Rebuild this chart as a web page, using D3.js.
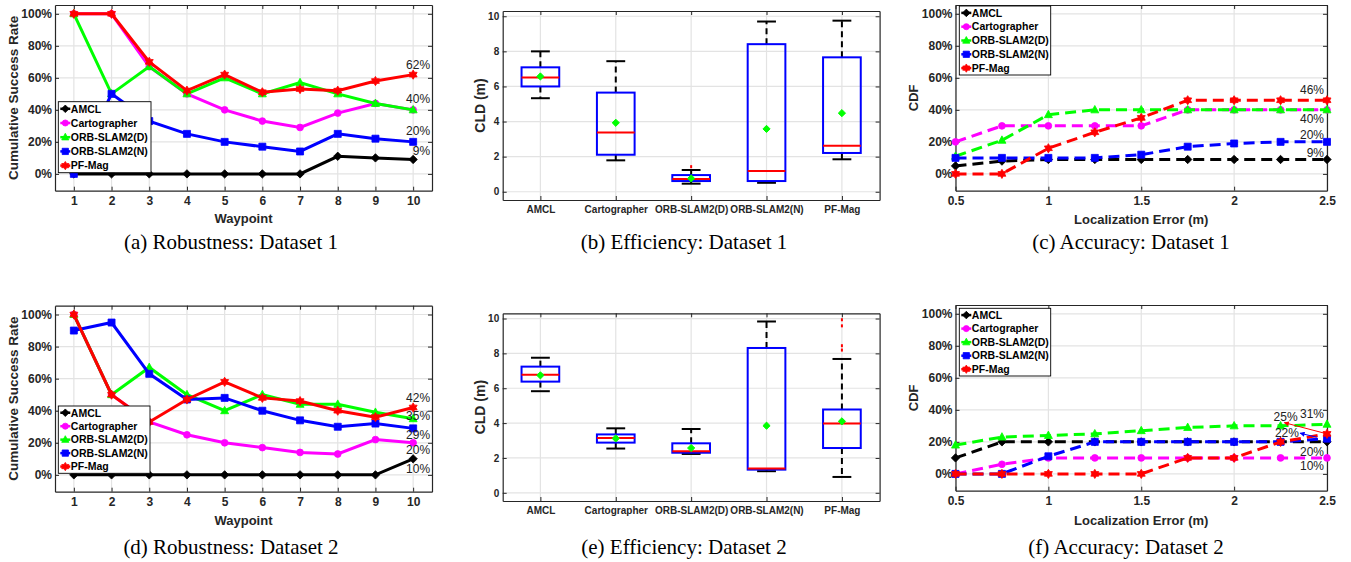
<!DOCTYPE html>
<html>
<head>
<meta charset="utf-8">
<script src="https://cdn.jsdelivr.net/npm/d3@7"></script>
<style>
body { margin: 0; background: #fff; }
</style>
</head>
<body>
<svg id="fig" width="1351" height="562"></svg>
<script>
var methods = ["AMCL", "Cartographer", "ORB-SLAM2(D)", "ORB-SLAM2(N)", "PF-Mag"];
var colors = ["#000000", "#ff00ff", "#00ff00", "#0000ff", "#ff0000"];
var markerTypes = ["d", "o", "^", "s", "h"];
var waypoints = [1, 2, 3, 4, 5, 6, 7, 8, 9, 10];
var errSteps = [0.5, 0.75, 1, 1.25, 1.5, 1.75, 2, 2.25, 2.5];
var pctTicks = [0, 20, 40, 60, 80, 100];
var errTicks = [0.5, 1, 1.5, 2, 2.5];
var cldTicks = [0, 2, 4, 6, 8, 10];

// (a) robustness, dataset 1 (%)
var rob1AMCL = [0, 0, 0, 0, 0, 0, 0, 11, 10, 9];
var rob1Carto = [100, 100, 67, 50, 40, 33, 29, 38, 44, 40];
var rob1OrbD = [100, 50, 67, 50, 60, 50, 57, 50, 44, 40];
var rob1OrbN = [0, 50, 33, 25, 20, 17, 14, 25, 22, 20];
var rob1PF = [100, 100, 70, 52, 62, 51, 53, 52, 58, 62];
var rob1LabText = ["62%", "40%", "20%", "9%"];
var rob1LabY = [68, 46.8, 26.8, 14.3];

// (d) robustness, dataset 2 (%)
var rob2AMCL = [0, 0, 0, 0, 0, 0, 0, 0, 0, 10];
var rob2Carto = [100, 50, 33, 25, 20, 17, 14, 13, 22, 20];
var rob2OrbD = [100, 50, 67, 50, 40, 50, 44, 44, 39, 35];
var rob2OrbN = [90, 95, 63, 47, 48, 40, 34, 30, 32, 29];
var rob2PF = [100, 50, 33, 47, 58, 48, 46, 40, 36, 42];
var rob2LabText = ["42%", "35%", "29%", "20%", "10%"];
var rob2LabY = [47.8, 36.8, 25.1, 15.6, 3.5];

// (b) CLD, dataset 1 (m)
var eff1Low = [5.33, 1.79, 0.46, 0.51, 1.85];
var eff1Q1 = [6.0, 2.11, 0.61, 0.61, 2.21];
var eff1Med = [6.51, 3.38, 0.73, 1.18, 2.62];
var eff1Q3 = [7.09, 5.65, 0.95, 8.41, 7.66];
var eff1High = [8.0, 7.44, 1.24, 9.70, 9.75];
var eff1Mean = [6.57, 3.93, 0.76, 3.58, 4.48];
var eff1Out = [[], [], [1.43], [], []];

// (e) CLD, dataset 2 (m)
var eff2Low = [5.83, 2.54, 2.23, 1.24, 0.91];
var eff2Q1 = [6.38, 2.88, 2.30, 1.33, 2.57];
var eff2Med = [6.78, 3.14, 2.38, 1.39, 3.97];
var eff2Q3 = [7.24, 3.35, 2.84, 8.31, 4.78];
var eff2High = [7.75, 3.70, 3.66, 9.83, 7.68];
var eff2Mean = [6.74, 3.12, 2.57, 3.85, 4.10];
var eff2Out = [[], [], [], [], [9.93, 9.58, 8.44, 8.19]];

// (c) accuracy CDF, dataset 1 (%)
var acc1AMCL = [5, 8, 9, 9, 9, 9, 9, 9, 9];
var acc1Carto = [20, 30, 30, 30, 30, 40, 40, 40, 40];
var acc1OrbD = [11, 21, 37, 40, 40, 40, 40, 40, 40];
var acc1OrbN = [10, 10, 10, 10, 12, 17, 19, 20, 20];
var acc1PF = [0, 0, 16, 26, 35, 46, 46, 46, 46];
var acc1LabText = ["46%", "40%", "20%", "9%"];
var acc1LabY = [52.4, 34.5, 24.3, 12.9];

// (f) accuracy CDF, dataset 2 (%)
var acc2AMCL = [10, 20, 20, 20, 20, 20, 20, 20, 20];
var acc2Carto = [0, 6, 10, 10, 10, 10, 10, 10, 10];
var acc2OrbD = [18, 23, 24, 25, 27, 29, 30, 30, 31];
var acc2OrbN = [0, 0, 11, 20, 20, 20, 20, 20, 22];
var acc2PF = [0, 0, 0, 0, 0, 10, 10, 20, 25];
var acc2LabText = ["31%", "25%", "22%", "20%", "10%"];
var acc2LabX = [2.484, 2.342, 2.349, 2.484, 2.484];
var acc2LabY = [37.4, 35.7, 25.7, 13.9, 4.9];
var acc2ArrowFrom = [[2.5, 25], [2.445, 22.9]];
var acc2ArrowTo = [[2.27, 32], [2.355, 25.4]];
var acc2ArrowColor = ["#ff0000", "#0000ff"];

var FONT = "'Liberation Sans', Arial, Helvetica, sans-serif";
var AXC = "#262626";
var svg = d3.select("#fig");

var defs = svg.append("defs");
acc2ArrowColor.forEach(function(c, i) {
    defs.append("marker").attr("id", "ah" + i)
        .attr("viewBox", "0 0 10 10").attr("refX", 9).attr("refY", 5)
        .attr("markerWidth", 6).attr("markerHeight", 5).attr("orient", "auto")
        .append("path").attr("d", "M0,0L10,5L0,10Z").attr("fill", c);
});

function markerPath(type, r) {
    if (type == "d") return "M0," + (-r) + "L" + r + ",0L0," + r + "L" + (-r) + ",0Z";
    if (type == "s") return "M" + (-r) + "," + (-r) + "H" + r + "V" + r + "H" + (-r) + "Z";
    if (type == "^") return "M0," + (-r * 1.1) + "L" + r + "," + (r * 0.75) + "L" + (-r) + "," + (r * 0.75) + "Z";
    if (type == "o") return d3.arc()({innerRadius: 0, outerRadius: r, startAngle: 0, endAngle: 2 * Math.PI});
    var pts = [];
    for (var k = 0; k < 12; k++) {
        var a = k * Math.PI / 6 - Math.PI / 2;
        var rr = k % 2 ? r * 0.6 : r;
        pts.push([rr * Math.cos(a), rr * Math.sin(a)]);
    }
    return "M" + pts.join("L") + "Z";
}
var markerR = {d: 4.2, o: 3.4, "^": 4.0, s: 3.5, h: 4.6};

function styleAxis(sel, size) {
    sel.select(".domain").attr("stroke", AXC).attr("stroke-width", 1.2);
    sel.selectAll(".tick line").attr("stroke", AXC).attr("stroke-width", 1);
    sel.selectAll("text").attr("fill", AXC).attr("font-size", size)
        .attr("font-weight", "bold").attr("font-family", FONT);
}

function frame(g, x, y, o) {
    g.append("g").selectAll("line").data(o.xTicks).join("line")
        .attr("x1", function(d) { return x(d); }).attr("x2", function(d) { return x(d); })
        .attr("y1", o.top).attr("y2", o.bottom)
        .attr("stroke", "#e3e3e3").attr("stroke-width", 1.2);
    g.append("g").selectAll("line").data(o.yTicks).join("line")
        .attr("y1", function(d) { return y(d); }).attr("y2", function(d) { return y(d); })
        .attr("x1", o.left).attr("x2", o.right)
        .attr("stroke", "#e3e3e3").attr("stroke-width", 1.2);
}

function axes(g, x, y, o) {
    var blank = function() { return ""; };
    g.append("g").attr("transform", "translate(0," + o.bottom + ")")
        .call(d3.axisBottom(x).tickValues(o.xTicks).tickFormat(o.xFmt).tickSizeInner(-4).tickSizeOuter(0).tickPadding(o.xPad))
        .call(styleAxis, o.xSize);
    g.append("g").attr("transform", "translate(0," + o.top + ")")
        .call(d3.axisTop(x).tickValues(o.xTicks).tickFormat(blank).tickSizeInner(-4).tickSizeOuter(0))
        .call(styleAxis, o.xSize);
    g.append("g").attr("transform", "translate(" + o.left + ",0)")
        .call(d3.axisLeft(y).tickValues(o.yTicks).tickFormat(o.yFmt).tickSizeInner(-4).tickSizeOuter(0).tickPadding(o.yPad))
        .call(styleAxis, o.ySize);
    g.append("g").attr("transform", "translate(" + o.right + ",0)")
        .call(d3.axisRight(y).tickValues(o.yTicks).tickFormat(blank).tickSizeInner(-4).tickSizeOuter(0))
        .call(styleAxis, o.ySize);

    if (o.xLabel) {
        g.append("text").attr("x", (o.left + o.right) / 2).attr("y", o.xLabY).attr("dy", "0.35em")
            .attr("text-anchor", "middle").attr("font-family", FONT).attr("font-weight", "bold")
            .attr("font-size", 13).attr("fill", AXC).text(o.xLabel);
    }
    g.append("text")
        .attr("transform", "translate(" + o.yLabX + "," + (o.top + o.bottom) / 2 + ") rotate(-90)")
        .attr("dy", "0.35em").attr("text-anchor", "middle").attr("font-family", FONT)
        .attr("font-weight", "bold").attr("font-size", o.yLabSize).attr("fill", AXC).text(o.yLabel);
}

function caption(cx, cy, txt) {
    svg.append("text").attr("x", cx).attr("y", cy).attr("dy", "0.35em").attr("text-anchor", "middle")
        .attr("font-family", "'Liberation Serif', 'Times New Roman', serif").attr("font-size", 21)
        .attr("fill", "#000").text(txt);
}

function linePanel(o) {
    var g = svg.append("g");
    var x = d3.scaleLinear().domain(o.xDomain).range([o.left, o.right]);
    var y = d3.scaleLinear().domain([-10.5, 105.5]).range([o.bottom, o.top]);
    frame(g, x, y, o);
    axes(g, x, y, o);

    var line = d3.line().x(function(d) { return x(d[0]); }).y(function(d) { return y(d[1]); });
    o.series.forEach(function(vals, i) {
        var pts = o.xs.map(function(v, j) { return [v, vals[j]]; });
        g.append("path").attr("d", line(pts)).attr("fill", "none")
            .attr("stroke", colors[i]).attr("stroke-width", 3)
            .attr("stroke-dasharray", o.dashed ? "11,6" : null);
        g.append("g").selectAll("path").data(pts).join("path")
            .attr("transform", function(d) { return "translate(" + x(d[0]) + "," + y(d[1]) + ")"; })
            .attr("d", markerPath(markerTypes[i], markerR[markerTypes[i]]))
            .attr("fill", colors[i]).attr("stroke", colors[i]).attr("stroke-width", 0.8);
    });

    if (o.arrowsFrom) {
        o.arrowsFrom.forEach(function(p, i) {
            g.append("line").attr("x1", x(p[0])).attr("y1", y(p[1]))
                .attr("x2", x(o.arrowsTo[i][0])).attr("y2", y(o.arrowsTo[i][1]))
                .attr("stroke", acc2ArrowColor[i]).attr("stroke-width", 1)
                .attr("marker-end", "url(#ah" + i + ")");
        });
    }

    o.labText.forEach(function(t, i) {
        var lx = o.labX ? o.labX[i] : o.labX0;
        g.append("text").attr("x", x(lx)).attr("y", y(o.labY[i])).attr("dy", "0.35em")
            .attr("text-anchor", "end").attr("font-family", FONT).attr("font-size", 12)
            .attr("fill", "#222").text(t);
    });

    // legend
    var L = o.legend, step = L.h / 5;
    var lg = g.append("g");
    lg.append("rect").attr("x", L.x).attr("y", L.y).attr("width", L.w).attr("height", L.h)
        .attr("fill", "#fff").attr("stroke", "#000").attr("stroke-width", 0.9);
    methods.forEach(function(m, i) {
        var cy = L.y + step / 2 + i * step;
        lg.append("line").attr("x1", L.x + 2).attr("x2", L.x + 12).attr("y1", cy).attr("y2", cy)
            .attr("stroke", colors[i]).attr("stroke-width", 2.5);
        lg.append("path").attr("transform", "translate(" + (L.x + 7) + "," + cy + ")")
            .attr("d", markerPath(markerTypes[i], markerR[markerTypes[i]] * 0.9))
            .attr("fill", colors[i]).attr("stroke", colors[i]).attr("stroke-width", 0.8);
        lg.append("text").attr("x", L.x + 12.5).attr("y", cy).attr("dy", "0.36em")
            .attr("font-family", FONT).attr("font-weight", "bold").attr("font-size", 10.5)
            .attr("fill", "#000").text(m);
    });
}

function boxPanel(o) {
    var g = svg.append("g");
    var x = d3.scaleLinear().domain([0.5, 5.5]).range([o.left, o.right]);
    var y = d3.scaleLinear().domain([-0.47, 10.3]).range([o.bottom, o.top]);
    frame(g, x, y, o);
    axes(g, x, y, o);

    var hw = 0.25, cw = 0.125;
    methods.forEach(function(m, i) {
        var c = i + 1;
        // whiskers
        [[o.q3[i], o.high[i]], [o.q1[i], o.low[i]]].forEach(function(w) {
            g.append("line").attr("x1", x(c)).attr("x2", x(c)).attr("y1", y(w[0])).attr("y2", y(w[1]))
                .attr("stroke", "#000").attr("stroke-width", 2).attr("stroke-dasharray", "6,4");
            g.append("line").attr("x1", x(c - cw)).attr("x2", x(c + cw)).attr("y1", y(w[1])).attr("y2", y(w[1]))
                .attr("stroke", "#000").attr("stroke-width", 2);
        });
        g.append("rect").attr("x", x(c - hw)).attr("width", x(c + hw) - x(c - hw))
            .attr("y", y(o.q3[i])).attr("height", y(o.q1[i]) - y(o.q3[i]))
            .attr("fill", "none").attr("stroke", "#0000ff").attr("stroke-width", 2);
        g.append("line").attr("x1", x(c - hw)).attr("x2", x(c + hw)).attr("y1", y(o.med[i])).attr("y2", y(o.med[i]))
            .attr("stroke", "#ff0000").attr("stroke-width", 2);
        g.append("path").attr("transform", "translate(" + x(c) + "," + y(o.mean[i]) + ")")
            .attr("d", markerPath("d", 3.6)).attr("fill", "#00ff00").attr("stroke", "#00ff00");
        g.selectAll(null).data(o.out[i]).join("rect")
            .attr("x", x(c) - 1).attr("width", 2)
            .attr("y", function(d) { return y(d) - 1.5; }).attr("height", 3)
            .attr("fill", "#ff0000");
    });
}

var pctFmt = function(d) { return d + "%"; };
var numFmt = function(d) { return d; };
var catFmt = function(d) { return methods[d - 1]; };

// (a)
linePanel({left: 55, right: 432, top: 5, bottom: 190.7, xDomain: [0.5, 10.5],
    xTicks: waypoints, yTicks: pctTicks, xFmt: numFmt, yFmt: pctFmt, xPad: 5.5, yPad: 3,
    xSize: 12, ySize: 12, xLabel: "Waypoint", xLabY: 218, yLabel: "Cumulative Success Rate",
    yLabX: 13, yLabSize: 13.5, xs: waypoints,
    series: [rob1AMCL, rob1Carto, rob1OrbD, rob1OrbN, rob1PF],
    labText: rob1LabText, labY: rob1LabY, labX0: 10.45,
    legend: {x: 58.3, y: 101.7, w: 92.7, h: 71}});

// (d)
linePanel({left: 55, right: 432, top: 305.7, bottom: 491.7, xDomain: [0.5, 10.5],
    xTicks: waypoints, yTicks: pctTicks, xFmt: numFmt, yFmt: pctFmt, xPad: 5.5, yPad: 3,
    xSize: 12, ySize: 12, xLabel: "Waypoint", xLabY: 520, yLabel: "Cumulative Success Rate",
    yLabX: 13, yLabSize: 13.5, xs: waypoints,
    series: [rob2AMCL, rob2Carto, rob2OrbD, rob2OrbN, rob2PF],
    labText: rob2LabText, labY: rob2LabY, labX0: 10.45,
    legend: {x: 58.3, y: 406, w: 91.7, h: 67.3}});

// (c)
linePanel({left: 955.5, right: 1327, top: 5, bottom: 190.7, xDomain: [0.5, 2.5],
    xTicks: errTicks, yTicks: pctTicks, xFmt: numFmt, yFmt: pctFmt, xPad: 5.5, yPad: 3,
    xSize: 12, ySize: 12, xLabel: "Localization Error (m)", xLabY: 219, yLabel: "CDF",
    yLabX: 913.3, yLabSize: 13, xs: errSteps, dashed: true,
    series: [acc1AMCL, acc1Carto, acc1OrbD, acc1OrbN, acc1PF],
    labText: acc1LabText, labY: acc1LabY, labX0: 2.484,
    legend: {x: 959.3, y: 6, w: 91.4, h: 69}});

// (f)
linePanel({left: 955.5, right: 1327, top: 305, bottom: 490.7, xDomain: [0.5, 2.5],
    xTicks: errTicks, yTicks: pctTicks, xFmt: numFmt, yFmt: pctFmt, xPad: 5.5, yPad: 3,
    xSize: 12, ySize: 12, xLabel: "Localization Error (m)", xLabY: 520, yLabel: "CDF",
    yLabX: 913.3, yLabSize: 13, xs: errSteps, dashed: true,
    series: [acc2AMCL, acc2Carto, acc2OrbD, acc2OrbN, acc2PF],
    labText: acc2LabText, labY: acc2LabY, labX: acc2LabX,
    arrowsFrom: acc2ArrowFrom, arrowsTo: acc2ArrowTo,
    legend: {x: 959.3, y: 308.3, w: 91.4, h: 67.7}});

// (b)
boxPanel({left: 502.7, right: 879.6, top: 11, bottom: 200,
    xTicks: [1, 2, 3, 4, 5], yTicks: cldTicks, xFmt: catFmt, yFmt: numFmt, xPad: 6, yPad: 3.5,
    xSize: 10, ySize: 10, yLabel: "CLD (m)", yLabX: 480, yLabSize: 14,
    low: eff1Low, q1: eff1Q1, med: eff1Med, q3: eff1Q3, high: eff1High, mean: eff1Mean, out: eff1Out});

// (e)
boxPanel({left: 502.7, right: 879.6, top: 313.3, bottom: 501,
    xTicks: [1, 2, 3, 4, 5], yTicks: cldTicks, xFmt: catFmt, yFmt: numFmt, xPad: 6, yPad: 3.5,
    xSize: 10, ySize: 10, yLabel: "CLD (m)", yLabX: 480, yLabSize: 14,
    low: eff2Low, q1: eff2Q1, med: eff2Med, q3: eff2Q3, high: eff2High, mean: eff2Mean, out: eff2Out});

caption(231, 242, "(a) Robustness: Dataset 1");
caption(684, 242, "(b) Efficiency: Dataset 1");
caption(1131, 242, "(c) Accuracy: Dataset 1");
caption(231, 547, "(d) Robustness: Dataset 2");
caption(684, 547, "(e) Efficiency: Dataset 2");
caption(1126, 547, "(f) Accuracy: Dataset 2");
</script>
</body>
</html>
